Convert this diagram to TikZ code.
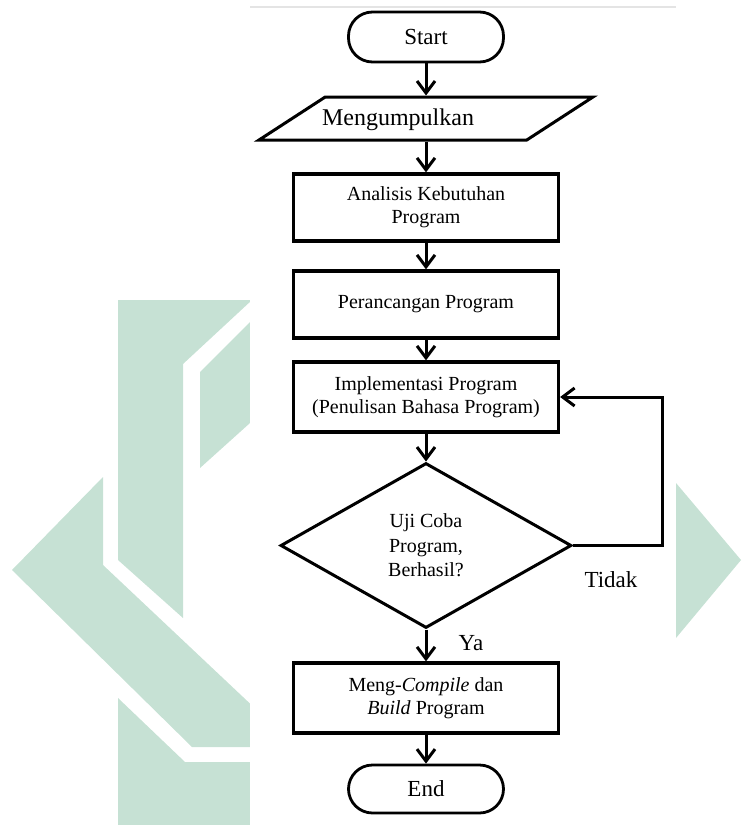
\documentclass[tikz,border=0pt]{standalone}
\usepackage{fontspec}
\setmainfont{Liberation Serif}
\usepackage{xcolor}
\usepackage{tikz}
\usetikzlibrary{arrows.meta,positioning,shapes.geometric}
\definecolor{wmgreen}{RGB}{198,225,212}
\definecolor{rulegray}{RGB}{228,228,228}

\begin{document}
\begin{tikzpicture}[x=0.5pt,y=-0.5pt,
  every node/.style={font=\fontsize{10}{11.5}\selectfont},
  box/.style={draw,line width=1.6pt,minimum width=132.5pt,minimum height=33.5pt,align=center,inner sep=2pt},
  term/.style={draw,line width=1.4pt,rounded corners=12pt,minimum width=77.5pt,minimum height=25pt,font=\fontsize{11.5}{13}\selectfont},
  flow/.style={line width=1.5pt,-{Straight Barb[length=6pt,width=9pt]}},
  lbl/.style={font=\fontsize{11.5}{13}\selectfont}]
  \useasboundingbox (0,0) rectangle (743,825);
  % watermark in the back
  \fill[wmgreen] (12,570) -- (103,477) -- (103,565) -- (260,713) -- (260,747) -- (192,747) -- cycle;
  \fill[wmgreen] (118,300) -- (252,300) -- (183,364) -- (183,618) -- (118,560) -- cycle;
  \fill[wmgreen] (200,372) -- (260,312) -- (260,414) -- (200,468) -- cycle;
  \fill[wmgreen] (118,698) -- (185,762) -- (260,762) -- (260,825) -- (118,825) -- cycle;
  \fill[wmgreen] (676,483) -- (741,560) -- (676,638) -- cycle;
  % white sheet of the chart
  \fill[white] (250,0) rectangle (676,825);
  \draw[rulegray,line width=0.6pt] (250,7) -- (676,7);

  \node[term] (start) at (426,37) {Start};
  \node[draw,line width=1.5pt,trapezium,trapezium left angle=33,trapezium right angle=147,
        trapezium stretches body,minimum width=167pt,inner xsep=0pt,inner ysep=10.75pt] (input) at (426,118.5) {};
  \node[font=\fontsize{12}{14}\selectfont] (inputtext) at (398,120) {Mengumpulkan};
  \node[box] (analysis) at (426,207.5) {Analisis Kebutuhan\\Program};
  \node[box] (design) at (426,304.5) {Perancangan Program};
  \node[box,minimum height=35pt] (impl) at (426,397) {Implementasi Program\\(Penulisan Bahasa Program)};
  \node[draw,line width=1.5pt,diamond,minimum width=145.5pt,minimum height=82.5pt,inner sep=0pt,
        align=center,font=\fontsize{10}{12.25}\selectfont] (test) at (426,545.5) {Uji Coba\\Program,\\Berhasil?};
  \node[box,minimum height=35pt] (build) at (426,698) {Meng-\textit{Compile} dan\\\textit{Build} Program};
  \node[term,minimum height=24pt] (end) at (426,789) {End};

  \draw[flow] (start) -- (input);
  \draw[flow] (input) -- (analysis);
  \draw[flow] (analysis) -- (design);
  \draw[flow] (design) -- (impl);
  \draw[flow] (impl) -- (test);
  \draw[flow] (test) -- (build);
  \draw[flow] (build) -- (end);
  % back to implementation when the test fails
  \draw[flow] (test.east) -- ++(89,0) |- (impl.east);
  \node[lbl] (no) at (611,580) {Tidak};
  \node[lbl] (yes) at (471,643) {Ya};
\end{tikzpicture}
\end{document}
